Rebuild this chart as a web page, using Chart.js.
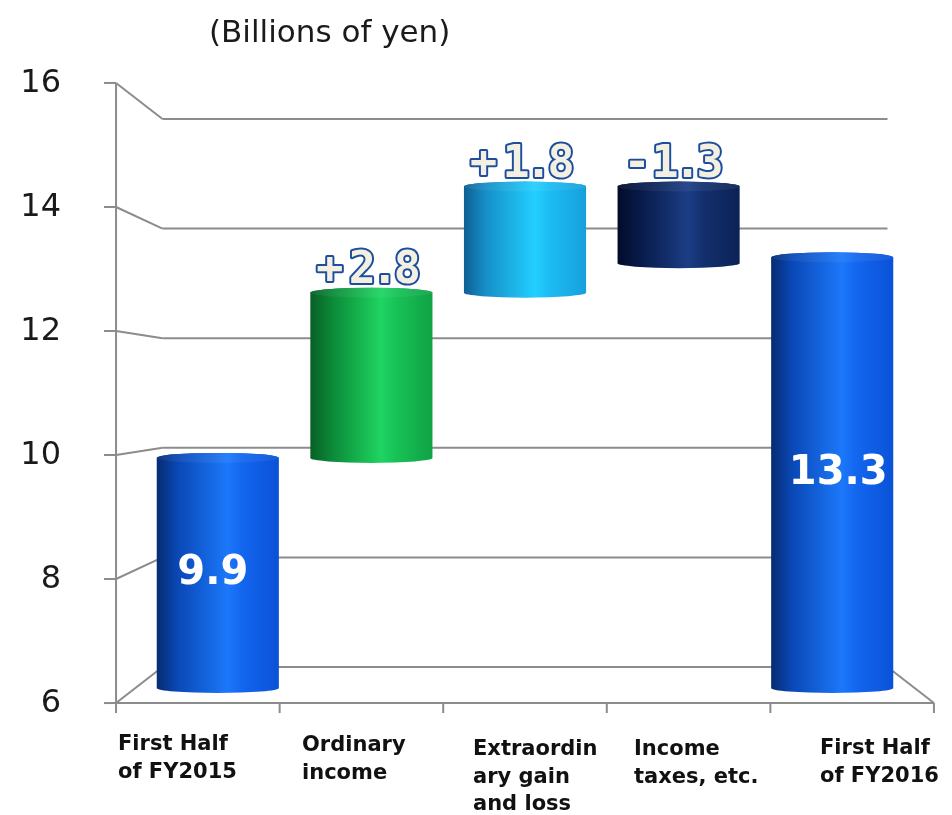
<!DOCTYPE html>
<html>
<head>
<meta charset="utf-8">
<script src="https://cdn.jsdelivr.net/npm/chart.js@4/dist/chart.umd.min.js"></script>
<style>
  html, body { margin: 0; padding: 0; background: #ffffff; }
  canvas { display: block; }
</style>
</head>
<body>
<canvas id="netIncomeChart" width="952" height="815"></canvas>
<script>
// categories and values (billions of yen)
var categories = [
    ['First Half', 'of FY2015'],
    ['Ordinary', 'income'],
    ['Extraordin', 'ary gain', 'and loss'],
    ['Income', 'taxes, etc.'],
    ['First Half', 'of FY2016']
];
var startValue = 9.9;
var changes = [2.8, 1.8, -1.3];
var endValue = 13.3;
var yTicks = [6, 8, 10, 12, 14, 16];
var unitLabel = '(Billions of yen)';

// waterfall ranges built from the values above
var ranges = [[yTicks[0], startValue]];
var running = startValue;
changes.forEach(function (c) {
    ranges.push([running, running + c]);
    running += c;
});
ranges.push([yTicks[0], endValue]);

var barLabels = [
    { text: startValue.toFixed(1), inside: true },
    { text: '+' + changes[0].toFixed(1), inside: false },
    { text: '+' + changes[1].toFixed(1), inside: false },
    { text: changes[2].toFixed(1), inside: false },
    { text: endValue.toFixed(1), inside: true }
];

var barColors = [
    [[0, '#062b72'], [0.18, '#0a49b8'], [0.58, '#1c78fa'], [0.7, '#1366ee'], [1, '#0a52d8']],
    [[0, '#075f26'], [0.18, '#0c8a38'], [0.58, '#1fd462'], [0.7, '#18c257'], [1, '#10a245']],
    [[0, '#0f5f93'], [0.18, '#168fc8'], [0.58, '#22cfff'], [0.7, '#1cbcf2'], [1, '#16a0dc']],
    [[0, '#030c28'], [0.18, '#071a48'], [0.58, '#1c3d86'], [0.7, '#13306e'], [1, '#0b2256']]
];
var colorIndex = [0, 1, 2, 3, 0];

// depth factors for the front and back planes around the chart area centre
var FRONT = { sx: 1.065, sy: 1.051 };
var BACK = { sx: 0.944, sy: 0.929 };

function project(chart, x, y, f) {
    var a = chart.chartArea;
    var cx = (a.left + a.right) / 2, cy = (a.top + a.bottom) / 2;
    return { x: cx + f.sx * (x - cx), y: cy + f.sy * (y - cy) };
}

function line(ctx, p, q) {
    ctx.beginPath();
    ctx.moveTo(p.x, p.y);
    ctx.lineTo(q.x, q.y);
    ctx.stroke();
}

// outlined change label, set character by character so the point stays narrow
function outlinedText(ctx, text, cx, baseline) {
    var adv = function (ch) { return ch === '.' ? 15 : (ch === '+' ? 35 : (ch === '-' ? 26 : 30)); };
    var total = 0;
    for (var i = 0; i < text.length; i++) total += adv(text[i]);
    var x = cx - total / 2;
    ctx.font = 'bold 45px "DejaVu Sans Mono"';
    ctx.textAlign = 'center';
    ctx.textBaseline = 'alphabetic';
    ctx.lineJoin = 'round';
    for (var j = 0; j < text.length; j++) {
        var ch = text[j], w = adv(ch);
        ctx.lineWidth = 4;
        ctx.strokeStyle = '#1d4e9e';
        ctx.strokeText(ch, x + w / 2, baseline);
        ctx.fillStyle = '#f3f0e2';
        ctx.fillText(ch, x + w / 2, baseline);
        x += w;
    }
}

var framePlugin = {
    id: 'frame3d',
    beforeDatasetsDraw: function (chart) {
        var ctx = chart.ctx, a = chart.chartArea, ys = chart.scales.y;
        ctx.save();
        ctx.strokeStyle = '#8c8c8c';
        ctx.lineWidth = 2;
        ctx.lineCap = 'butt';

        yTicks.forEach(function (t) {
            var py = ys.getPixelForValue(t);
            var fl = project(chart, a.left, py, FRONT);
            var bl = project(chart, a.left, py, BACK);
            var br = project(chart, a.right, py, BACK);
            line(ctx, fl, bl);
            line(ctx, bl, br);
            line(ctx, { x: fl.x - 12, y: fl.y }, fl);
        });

        // front axis
        var ft = project(chart, a.left, ys.getPixelForValue(yTicks[yTicks.length - 1]), FRONT);
        var fb = project(chart, a.left, a.bottom, FRONT);
        line(ctx, ft, fb);

        // floor
        var frb = project(chart, a.right, a.bottom, FRONT);
        var brb = project(chart, a.right, a.bottom, BACK);
        line(ctx, fb, frb);
        line(ctx, brb, frb);

        // category ticks on the front floor edge
        var step = (a.right - a.left) / categories.length;
        for (var i = 0; i <= categories.length; i++) {
            var p = project(chart, a.left + i * step, a.bottom, FRONT);
            line(ctx, p, { x: p.x, y: p.y + 10 });
        }
        ctx.restore();
    },
    afterDatasetsDraw: function (chart) {
        var ctx = chart.ctx, a = chart.chartArea, ys = chart.scales.y;
        var meta = chart.getDatasetMeta(0);

        meta.data.forEach(function (bar, i) {
            var x0 = bar.x - bar.width / 2, x1 = bar.x + bar.width / 2;
            var top = Math.min(bar.y, bar.base), bottom = Math.max(bar.y, bar.base);
            drawCylinder(ctx, x0, x1, top, bottom, barColors[colorIndex[i]]);
        });

        // value labels
        ctx.save();
        meta.data.forEach(function (bar, i) {
            var lab = barLabels[i];
            var top = Math.min(bar.y, bar.base), bottom = Math.max(bar.y, bar.base);
            if (lab.inside) {
                ctx.font = 'bold 40px "DejaVu Sans"';
                ctx.fillStyle = '#ffffff';
                ctx.textAlign = 'center';
                ctx.textBaseline = 'middle';
                ctx.fillText(lab.text, bar.x + (i === 0 ? -5 : 6), (top + bottom) / 2 + 1);
            } else {
                outlinedText(ctx, lab.text, bar.x - 4, top - 10);
            }
        });
        ctx.restore();

        // y tick labels on the front axis
        ctx.save();
        ctx.font = '32px "DejaVu Sans"';
        ctx.fillStyle = '#1a1a1a';
        ctx.textAlign = 'right';
        ctx.textBaseline = 'middle';
        yTicks.forEach(function (t) {
            var p = project(chart, a.left, ys.getPixelForValue(t), FRONT);
            ctx.fillText(String(t), p.x - 55, p.y + 1);
        });

        // unit label
        ctx.font = '31px "DejaVu Sans"';
        ctx.textAlign = 'left';
        ctx.fillText(unitLabel, 209, 34);

        // category labels
        var labelLeft = [118, 302, 473, 634, 820];
        var labelTop = [745, 746, 750, 750, 749];
        ctx.font = 'bold 21px "DejaVu Sans"';
        ctx.fillStyle = '#111111';
        categories.forEach(function (lines, i) {
            lines.forEach(function (s, j) {
                ctx.fillText(s, labelLeft[i], labelTop[i] + j * 27.5);
            });
        });
        ctx.restore();
    }
};

function drawCylinder(ctx, x0, x1, top, bottom, stops) {
    var cx = (x0 + x1) / 2, rx = (x1 - x0) / 2, ry = 5;
    var g = ctx.createLinearGradient(x0, 0, x1, 0);
    stops.forEach(function (s) { g.addColorStop(s[0], s[1]); });
    ctx.save();
    ctx.fillStyle = g;
    ctx.beginPath();
    ctx.moveTo(x0, top);
    ctx.lineTo(x0, bottom);
    ctx.ellipse(cx, bottom, rx, ry, 0, Math.PI, 0, true);
    ctx.lineTo(x1, top);
    ctx.ellipse(cx, top, rx, ry, 0, 0, Math.PI, true);
    ctx.closePath();
    ctx.fill();

    // top cap
    ctx.beginPath();
    ctx.ellipse(cx, top, rx, ry, 0, 0, Math.PI * 2);
    ctx.fill();
    ctx.fillStyle = 'rgba(255,255,255,0.06)';
    ctx.fill();
    ctx.restore();
}

var ctx = document.getElementById('netIncomeChart').getContext('2d');
new Chart(ctx, {
    type: 'bar',
    data: {
        labels: categories,
        datasets: [{
            data: ranges,
            backgroundColor: 'rgba(0,0,0,0)',
            borderWidth: 0,
            categoryPercentage: 1,
            barPercentage: 0.795
        }]
    },
    options: {
        responsive: false,
        animation: false,
        layout: { padding: { left: 141, right: 43, top: 98, bottom: 127 } },
        plugins: {
            legend: { display: false },
            tooltip: { enabled: false }
        },
        scales: {
            x: { display: false },
            y: { display: false, min: yTicks[0], max: yTicks[yTicks.length - 1] }
        }
    },
    plugins: [framePlugin]
});
</script>
</body>
</html>
